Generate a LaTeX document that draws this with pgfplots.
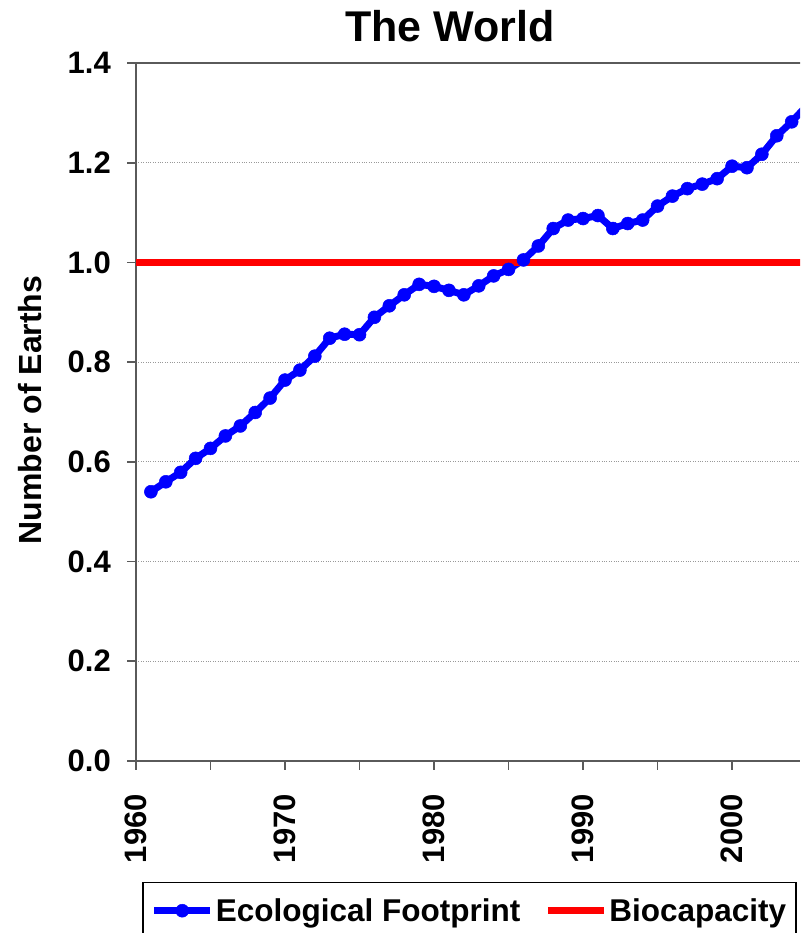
\documentclass[border=0pt]{standalone}
\usepackage{fontspec}
\setmainfont{Liberation Sans}
\usepackage{pgfplots}
\pgfplotsset{compat=1.18}
\definecolor{efblue}{RGB}{0,0,255}
\definecolor{bcred}{RGB}{255,0,0}
\definecolor{axgray}{RGB}{90,90,90}
\begin{document}
\begin{tikzpicture}[x=1pt,y=1pt]
\path[use as bounding box, clip] (0,0) rectangle (800,933);
\node[font=\fontsize{43}{50}\selectfont\bfseries] at (450,907) {The World};
\begin{axis}[
  at={(136pt,172pt)}, anchor=south west,
  scale only axis, width=664pt, height=698pt,
  xmin=1960, xmax=2004.56, ymin=0, ymax=1.4,
  axis x line*=bottom, axis y line*=left,
  axis line style={draw=axgray, line width=2pt},
  xtick={1960,1970,1980,1990,2000},
  minor xtick={1965,1975,1985,1995},
  ytick={0,0.2,...,1.21},
  tick align=outside,
  major tick length=9pt, minor tick length=9pt,
  every tick/.style={draw=axgray, line width=1.6pt},
  ymajorgrids,
  major grid style={draw=gray!80, dotted, line width=0.8pt},
  extra y ticks={1.4}, extra y tick style={grid=none},
  /pgf/number format/assume math mode=true,
  /pgf/number format/fixed, /pgf/number format/fixed zerofill,
  /pgf/number format/precision=1,
  x tick label style={/pgf/number format/1000 sep={}, rotate=90, anchor=east, font=\fontsize{31}{36}\selectfont\bfseries, inner xsep=24pt, inner ysep=4pt},
  xticklabel={\pgfmathprintnumber[fixed, precision=0, 1000 sep={}]{\tick}},
  y tick label style={font=\fontsize{31}{36}\selectfont\bfseries, inner xsep=16pt},
  ylabel={Number of Earths},
  ylabel style={at={(axis description cs:-0.1596,0.503)}, anchor=center, font=\fontsize{32}{38}\selectfont\bfseries},
  legend columns=2,
  legend style={at={(axis description cs:0.009,-0.173)}, anchor=north west,
    draw=black, line width=1.6pt, font=\fontsize{31.5}{38}\selectfont\bfseries,
    inner xsep=8pt, inner ysep=14pt,
    /tikz/every even column/.append style={column sep=22pt}},
  legend image code/.code={\draw[#1, mark repeat=2, mark phase=2] plot coordinates {(0pt,0pt) (28pt,0pt) (56pt,0pt)};},
  clip=true,
]
\draw[axgray, line width=2pt] (rel axis cs:0,1) -- (rel axis cs:1.01,1);
\addplot[color=efblue, line width=7pt, mark=*, mark size=6.5pt, mark options={fill=efblue, draw=efblue, line width=0.5pt}] coordinates {
(1961,0.540) (1962,0.560) (1963,0.579) (1964,0.607) (1965,0.627)
(1966,0.652) (1967,0.672) (1968,0.699) (1969,0.728) (1970,0.764)
(1971,0.784) (1972,0.812) (1973,0.848) (1974,0.856) (1975,0.855)
(1976,0.890) (1977,0.913) (1978,0.935) (1979,0.956) (1980,0.952)
(1981,0.944) (1982,0.935) (1983,0.953) (1984,0.973) (1985,0.986)
(1986,1.005) (1987,1.033) (1988,1.068) (1989,1.085) (1990,1.088)
(1991,1.094) (1992,1.068) (1993,1.078) (1994,1.085) (1995,1.113)
(1996,1.133) (1997,1.148) (1998,1.157) (1999,1.168) (2000,1.193)
(2001,1.190) (2002,1.217) (2003,1.254) (2004,1.282) (2005,1.314)
};
\addlegendentry{Ecological Footprint}
\addplot[color=bcred, line width=7pt] coordinates {(1960,1) (2010,1)};
\addlegendentry{Biocapacity}
\end{axis}
\end{tikzpicture}
\end{document}
